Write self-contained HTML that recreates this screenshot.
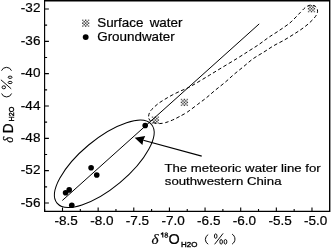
<!DOCTYPE html>
<html><head><meta charset="utf-8"><style>
html,body{margin:0;padding:0;background:#fff;width:331px;height:248px;overflow:hidden}
svg{display:block;will-change:transform}
text{font-family:"Liberation Sans", sans-serif;fill:#000;stroke:#000;stroke-width:0.2px}
</style></head><body>
<svg width="331" height="248" viewBox="0 0 331 248">
<path d="M44.6 0.5 H329.6 V211.3 H44.6 Z" fill="none" stroke="#000" stroke-width="1.15"/>
<rect x="330.2" y="0" width="0.8" height="212.0" fill="#888"/>
<rect x="44.6" y="0" width="285.0" height="1.5" fill="#000"/>
<path d="M44.6 9.00h4.3 M44.6 25.17h2.5 M44.6 41.33h4.3 M44.6 57.50h2.5 M44.6 73.66h4.3 M44.6 89.83h2.5 M44.6 106.00h4.3 M44.6 122.16h2.5 M44.6 138.33h4.3 M44.6 154.49h2.5 M44.6 170.66h4.3 M44.6 186.83h2.5 M44.6 202.99h4.3 M62.50 211.3v-3.8 M44.68 211.3v-2.2 M98.14 211.3v-3.8 M80.32 211.3v-2.2 M133.78 211.3v-3.8 M115.96 211.3v-2.2 M169.42 211.3v-3.8 M151.60 211.3v-2.2 M205.06 211.3v-3.8 M187.24 211.3v-2.2 M240.70 211.3v-3.8 M222.88 211.3v-2.2 M276.34 211.3v-3.8 M258.52 211.3v-2.2 M311.98 211.3v-3.8 M294.16 211.3v-2.2" stroke="#000" stroke-width="1.1" fill="none"/>
<text transform="translate(40.4 12.20) scale(1.11 1)" text-anchor="end" font-size="12.2">-32</text>
<text transform="translate(40.4 45.13) scale(1.11 1)" text-anchor="end" font-size="12.2">-36</text>
<text transform="translate(40.4 77.46) scale(1.11 1)" text-anchor="end" font-size="12.2">-40</text>
<text transform="translate(40.4 109.80) scale(1.11 1)" text-anchor="end" font-size="12.2">-44</text>
<text transform="translate(40.4 142.13) scale(1.11 1)" text-anchor="end" font-size="12.2">-48</text>
<text transform="translate(40.4 174.46) scale(1.11 1)" text-anchor="end" font-size="12.2">-52</text>
<text transform="translate(40.4 206.79) scale(1.11 1)" text-anchor="end" font-size="12.2">-56</text>
<text transform="translate(66.20 224.8) scale(1.11 1)" text-anchor="middle" font-size="12.2">-8.5</text>
<text transform="translate(101.84 224.8) scale(1.11 1)" text-anchor="middle" font-size="12.2">-8.0</text>
<text transform="translate(137.48 224.8) scale(1.11 1)" text-anchor="middle" font-size="12.2">-7.5</text>
<text transform="translate(173.12 224.8) scale(1.11 1)" text-anchor="middle" font-size="12.2">-7.0</text>
<text transform="translate(208.76 224.8) scale(1.11 1)" text-anchor="middle" font-size="12.2">-6.5</text>
<text transform="translate(244.40 224.8) scale(1.11 1)" text-anchor="middle" font-size="12.2">-6.0</text>
<text transform="translate(280.04 224.8) scale(1.11 1)" text-anchor="middle" font-size="12.2">-5.5</text>
<text transform="translate(315.68 224.8) scale(1.11 1)" text-anchor="middle" font-size="12.2">-5.0</text>
<path d="M62.3 200.5 L259.2 23.9" stroke="#000" stroke-width="1.0" fill="none"/>
<ellipse cx="104.28" cy="163.83" rx="61.48" ry="24.49" transform="rotate(-39.77 104.28 163.83)" fill="none" stroke="#000" stroke-width="1.0"/>
<path d="M148.60 116.40 C148.67 115.00 149.17 113.05 150.00 111.60 C150.83 110.15 152.23 109.03 153.60 107.70 C154.97 106.37 156.47 104.92 158.20 103.60 C159.93 102.28 161.68 101.22 164.00 99.80 C166.32 98.38 169.35 96.57 172.10 95.10 C174.85 93.63 177.85 92.22 180.50 91.00 C183.15 89.78 185.37 89.12 188.00 87.80 C190.63 86.48 192.75 85.18 196.30 83.10 C199.85 81.02 204.92 77.95 209.30 75.30 C213.68 72.65 217.98 70.00 222.60 67.20 C227.22 64.40 232.68 61.17 237.00 58.50 C241.32 55.83 244.80 53.57 248.50 51.20 C252.20 48.83 255.87 46.58 259.20 44.30 C262.53 42.02 265.18 39.78 268.50 37.50 C271.82 35.22 275.63 32.95 279.10 30.60 C282.57 28.25 286.65 25.50 289.30 23.40 C291.95 21.30 293.13 19.85 295.00 18.00 C296.87 16.15 298.75 14.07 300.50 12.30 C302.25 10.53 303.75 8.62 305.50 7.40 C307.25 6.18 309.28 5.10 311.00 5.00 C312.72 4.90 314.70 5.77 315.80 6.80 C316.90 7.83 317.65 9.60 317.60 11.20 C317.55 12.80 316.90 14.42 315.50 16.40 C314.10 18.38 311.45 21.03 309.20 23.10 C306.95 25.17 304.43 27.03 302.00 28.80 C299.57 30.57 297.60 31.80 294.60 33.70 C291.60 35.60 287.53 38.17 284.00 40.20 C280.47 42.23 276.82 43.88 273.40 45.90 C269.98 47.92 266.90 50.15 263.50 52.30 C260.10 54.45 256.30 56.43 253.00 58.80 C249.70 61.17 246.83 63.93 243.70 66.50 C240.57 69.07 237.30 71.57 234.20 74.20 C231.10 76.83 228.30 79.60 225.10 82.30 C221.90 85.00 218.10 87.83 215.00 90.40 C211.90 92.97 209.42 95.35 206.50 97.70 C203.58 100.05 200.70 102.10 197.50 104.50 C194.30 106.90 190.38 110.05 187.30 112.10 C184.22 114.15 181.45 115.48 179.00 116.80 C176.55 118.12 174.83 119.03 172.60 120.00 C170.37 120.97 167.82 122.00 165.60 122.60 C163.38 123.20 161.37 123.60 159.30 123.60 C157.23 123.60 154.82 123.20 153.20 122.60 C151.58 122.00 150.37 121.03 149.60 120.00 C148.83 118.97 148.53 117.80 148.60 116.40Z" fill="none" stroke="#000" stroke-width="1.0" stroke-dasharray="3.6 2.5"/>
<circle cx="65.6" cy="192.8" r="2.82" fill="#000"/>
<circle cx="69.2" cy="189.9" r="2.82" fill="#000"/>
<circle cx="71.8" cy="205.2" r="2.82" fill="#000"/>
<circle cx="91.1" cy="167.7" r="2.82" fill="#000"/>
<circle cx="96.75" cy="175.0" r="2.82" fill="#000"/>
<circle cx="145.2" cy="125.5" r="2.82" fill="#000"/>
<rect x="151.78" y="116.47" width="1.45" height="1.45" fill="#000" fill-opacity="0.55"/><rect x="154.68" y="116.47" width="1.45" height="1.45" fill="#000" fill-opacity="0.75"/><rect x="157.58" y="116.47" width="1.45" height="1.45" fill="#000" fill-opacity="0.55"/><rect x="153.23" y="117.92" width="1.45" height="1.45" fill="#000" fill-opacity="0.75"/><rect x="156.12" y="117.92" width="1.45" height="1.45" fill="#000" fill-opacity="0.75"/><rect x="151.78" y="119.38" width="1.45" height="1.45" fill="#000" fill-opacity="0.75"/><rect x="154.68" y="119.38" width="1.45" height="1.45" fill="#000" fill-opacity="0.75"/><rect x="157.58" y="119.38" width="1.45" height="1.45" fill="#000" fill-opacity="0.75"/><rect x="153.23" y="120.83" width="1.45" height="1.45" fill="#000" fill-opacity="0.75"/><rect x="156.12" y="120.83" width="1.45" height="1.45" fill="#000" fill-opacity="0.75"/><rect x="151.78" y="122.28" width="1.45" height="1.45" fill="#000" fill-opacity="0.55"/><rect x="154.68" y="122.28" width="1.45" height="1.45" fill="#000" fill-opacity="0.75"/><rect x="157.58" y="122.28" width="1.45" height="1.45" fill="#000" fill-opacity="0.55"/>
<rect x="180.78" y="98.78" width="1.45" height="1.45" fill="#000" fill-opacity="0.55"/><rect x="183.68" y="98.78" width="1.45" height="1.45" fill="#000" fill-opacity="0.75"/><rect x="186.58" y="98.78" width="1.45" height="1.45" fill="#000" fill-opacity="0.55"/><rect x="182.23" y="100.23" width="1.45" height="1.45" fill="#000" fill-opacity="0.75"/><rect x="185.12" y="100.23" width="1.45" height="1.45" fill="#000" fill-opacity="0.75"/><rect x="180.78" y="101.68" width="1.45" height="1.45" fill="#000" fill-opacity="0.75"/><rect x="183.68" y="101.68" width="1.45" height="1.45" fill="#000" fill-opacity="0.75"/><rect x="186.58" y="101.68" width="1.45" height="1.45" fill="#000" fill-opacity="0.75"/><rect x="182.23" y="103.13" width="1.45" height="1.45" fill="#000" fill-opacity="0.75"/><rect x="185.12" y="103.13" width="1.45" height="1.45" fill="#000" fill-opacity="0.75"/><rect x="180.78" y="104.58" width="1.45" height="1.45" fill="#000" fill-opacity="0.55"/><rect x="183.68" y="104.58" width="1.45" height="1.45" fill="#000" fill-opacity="0.75"/><rect x="186.58" y="104.58" width="1.45" height="1.45" fill="#000" fill-opacity="0.55"/>
<rect x="307.88" y="5.07" width="1.45" height="1.45" fill="#000" fill-opacity="0.55"/><rect x="310.77" y="5.07" width="1.45" height="1.45" fill="#000" fill-opacity="0.75"/><rect x="313.67" y="5.07" width="1.45" height="1.45" fill="#000" fill-opacity="0.55"/><rect x="309.32" y="6.52" width="1.45" height="1.45" fill="#000" fill-opacity="0.75"/><rect x="312.22" y="6.52" width="1.45" height="1.45" fill="#000" fill-opacity="0.75"/><rect x="307.88" y="7.97" width="1.45" height="1.45" fill="#000" fill-opacity="0.75"/><rect x="310.77" y="7.97" width="1.45" height="1.45" fill="#000" fill-opacity="0.75"/><rect x="313.67" y="7.97" width="1.45" height="1.45" fill="#000" fill-opacity="0.75"/><rect x="309.32" y="9.42" width="1.45" height="1.45" fill="#000" fill-opacity="0.75"/><rect x="312.22" y="9.42" width="1.45" height="1.45" fill="#000" fill-opacity="0.75"/><rect x="307.88" y="10.88" width="1.45" height="1.45" fill="#000" fill-opacity="0.55"/><rect x="310.77" y="10.88" width="1.45" height="1.45" fill="#000" fill-opacity="0.75"/><rect x="313.67" y="10.88" width="1.45" height="1.45" fill="#000" fill-opacity="0.55"/>
<rect x="82.03" y="19.57" width="1.45" height="1.45" fill="#000" fill-opacity="0.55"/><rect x="84.93" y="19.57" width="1.45" height="1.45" fill="#000" fill-opacity="0.75"/><rect x="87.83" y="19.57" width="1.45" height="1.45" fill="#000" fill-opacity="0.55"/><rect x="83.48" y="21.02" width="1.45" height="1.45" fill="#000" fill-opacity="0.75"/><rect x="86.38" y="21.02" width="1.45" height="1.45" fill="#000" fill-opacity="0.75"/><rect x="82.03" y="22.47" width="1.45" height="1.45" fill="#000" fill-opacity="0.75"/><rect x="84.93" y="22.47" width="1.45" height="1.45" fill="#000" fill-opacity="0.75"/><rect x="87.83" y="22.47" width="1.45" height="1.45" fill="#000" fill-opacity="0.75"/><rect x="83.48" y="23.92" width="1.45" height="1.45" fill="#000" fill-opacity="0.75"/><rect x="86.38" y="23.92" width="1.45" height="1.45" fill="#000" fill-opacity="0.75"/><rect x="82.03" y="25.37" width="1.45" height="1.45" fill="#000" fill-opacity="0.55"/><rect x="84.93" y="25.37" width="1.45" height="1.45" fill="#000" fill-opacity="0.75"/><rect x="87.83" y="25.37" width="1.45" height="1.45" fill="#000" fill-opacity="0.55"/>
<circle cx="85.7" cy="37.1" r="2.95" fill="#000"/>
<text transform="translate(97.2 27.0) scale(1.1 1)" font-size="12.2" word-spacing="2.3">Surface water</text>
<text transform="translate(97.2 40.7) scale(1.1 1)" font-size="12.2">Groundwater</text>
<path d="M143.3 140.2 L201.7 156.1" stroke="#000" stroke-width="1.1" fill="none"/>
<path d="M134.7 137.8 L145.2 136.0 L143.3 140.2 L142.4 145.0 Z" fill="#000"/>
<text transform="translate(164.4 171.9) scale(1.12 1)" font-size="11.8">The meteoric water line for</text>
<text transform="translate(164.8 184.5) scale(1.12 1)" font-size="11.8">southwestern China</text>
<text transform="translate(151.5 243.7) scale(1.1 1)" style="font-family:'Liberation Serif', serif;font-style:italic" font-size="13.8">&#948;</text>
<path d="M160.8 234.3 Q162.2 233.7 162.8 232.6 V237.5" fill="none" stroke="#000" stroke-width="1.15"/>
<ellipse cx="166.3" cy="233.85" rx="1.3" ry="1.0" fill="none" stroke="#000" stroke-width="1.0"/>
<ellipse cx="166.3" cy="236.2" rx="1.5" ry="1.25" fill="none" stroke="#000" stroke-width="1.0"/>
<text transform="translate(168.4 243.8) scale(1.07 1.02)" font-size="13.5">O</text>
<text transform="translate(181.1 246.9) scale(1.12 1)" font-size="7.1" style="stroke-width:0.35px">H2O</text>
<path d="M208.2 234.6 A5.47 5.47 0 0 0 208.2 244.2" fill="none" stroke="#000" stroke-width="0.95"/>
<path d="M232.1 234.1 A5.81 5.81 0 0 1 232.1 244.1" fill="none" stroke="#000" stroke-width="0.95"/>
<ellipse cx="215.7" cy="236.1" rx="1.3" ry="2.2" fill="none" stroke="#000" stroke-width="0.95"/>
<path d="M223.1 233.4 L214.6 244.3" fill="none" stroke="#000" stroke-width="0.95"/>
<ellipse cx="221.15" cy="241.8" rx="1.3" ry="2.3" fill="none" stroke="#000" stroke-width="0.95"/>
<ellipse cx="225.45" cy="241.8" rx="1.4" ry="2.3" fill="none" stroke="#000" stroke-width="0.95"/>
<text transform="translate(12.5 142.7) rotate(-90) scale(1 1.15)" font-size="12.8" style="font-family:'Liberation Serif', serif;font-style:italic;">&#948;</text>
<text transform="translate(12.5 133.2) rotate(-90) scale(1 1.12)" font-size="13.6">D</text>
<text transform="translate(14.1 121.4) rotate(-90) scale(1 1.12)" font-size="7.2" style="stroke-width:0.35px">H2O</text>
<path d="M1.5 70.7 A5.4 5.4 0 0 1 11.5 70.7" fill="none" stroke="#000" stroke-width="0.95"/>
<path d="M1.6 93.5 A5.35 5.35 0 0 0 11.6 93.5" fill="none" stroke="#000" stroke-width="0.95"/>
<ellipse cx="10.1" cy="77.25" rx="1.95" ry="1.15" fill="none" stroke="#000" stroke-width="0.95"/>
<ellipse cx="10.1" cy="82.5" rx="1.95" ry="1.15" fill="none" stroke="#000" stroke-width="0.95"/>
<ellipse cx="3.8" cy="87.3" rx="1.75" ry="1.5" fill="none" stroke="#000" stroke-width="0.95"/>
<path d="M0.9 79.8 L11.2 88.8" fill="none" stroke="#000" stroke-width="0.95"/>
</svg>
</body></html>
